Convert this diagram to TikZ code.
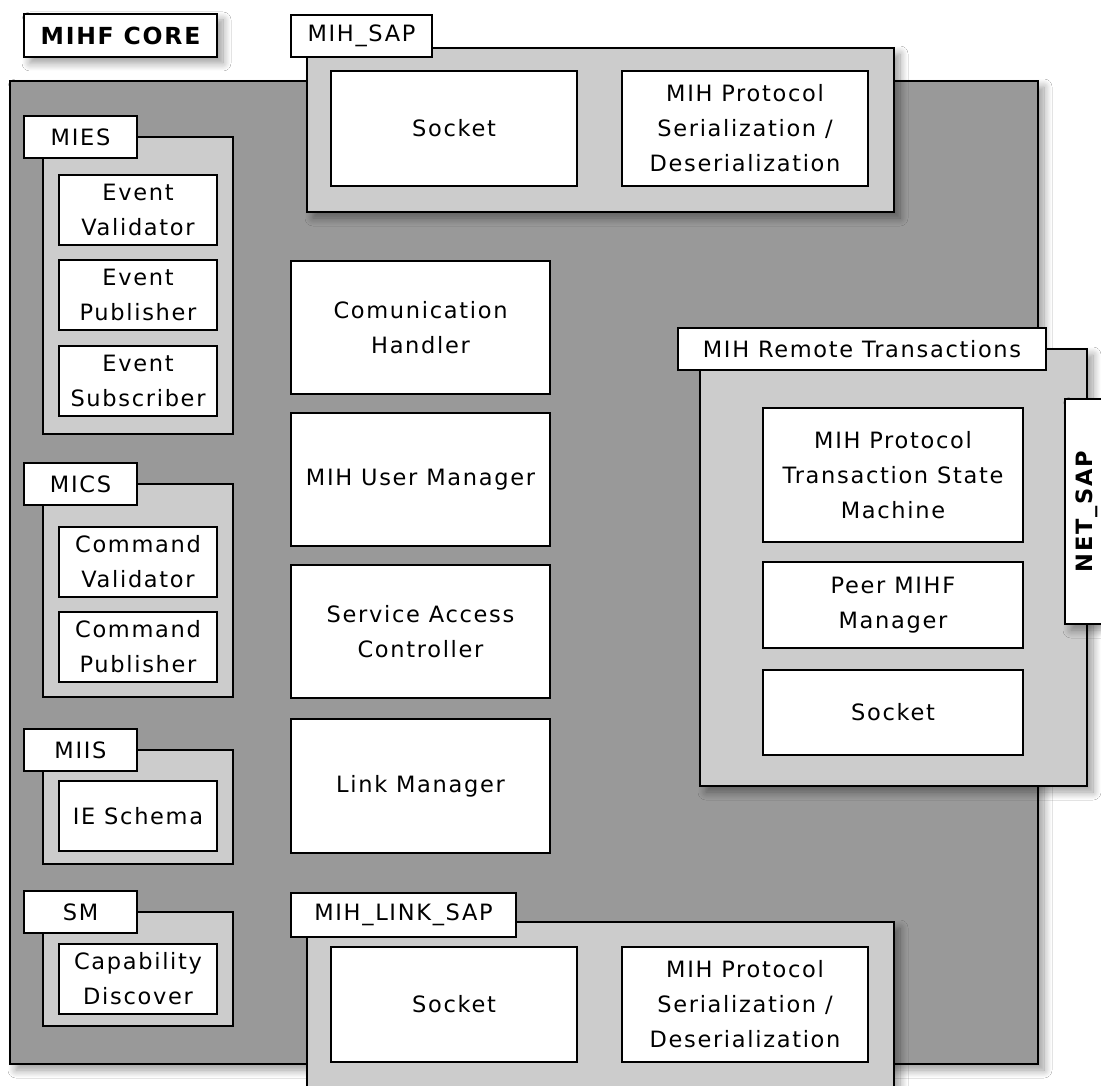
\documentclass[tikz,border=0pt]{standalone}
\usepackage{fontspec}
\setmainfont[LetterSpace=7.5]{DejaVu Sans}
\usetikzlibrary{shadows.blur}
\definecolor{coregray}{HTML}{999999}
\definecolor{groupgray}{HTML}{CCCCCC}
\tikzset{
  shad/.style={blur shadow={shadow xshift=6pt, shadow yshift=-6pt, shadow blur radius=8pt, shadow blur steps=12, shadow opacity=40}},
  base/.style={draw=black, line width=1.7pt, rectangle, inner sep=0pt, outer sep=0pt},
  corebox/.style={base, fill=coregray},
  grp/.style={base, fill=groupgray},
  blk/.style={base, fill=white, align=center, font=\fontsize{22.5}{35}\selectfont},
  tag/.style={base, fill=white, font=\fontsize{22.5}{27}\selectfont},
  sz/.style n args={2}{minimum width=#1pt, minimum height=#2pt},
}
\begin{document}
\begin{tikzpicture}[x=1pt,y=-1pt]
\useasboundingbox (0,0) rectangle (1101,1086);
\clip (0,0) rectangle (1101,1086);
\fill[white] (0,0) rectangle (1101,1086);

% core
\node[corebox, shad, sz={1028}{983}] (core) at (524,572.5) {};
\node[tag, shad, sz={193}{43}, font=\fontsize{23.5}{27}\selectfont\bfseries] (coretag) at (120.5,35.5) {MIHF CORE};

% MIH_SAP
\node[grp, shad, sz={587}{164}] (sapgrp) at (600.5,130) {};
\node[blk, sz={246}{115}] (sock1) at (454,128.5) {Socket};
\node[blk, sz={246}{115}] (ser1) at (745,128.5) {MIH Protocol\\Serialization /\\Deserialization};
\node[tag, sz={141}{42}] (saptag) at (361.5,36) {MIH\_SAP};

% MIES
\node[grp, sz={190}{297}] (miesgrp) at (138,285.5) {};
\node[blk, sz={158}{70}] (evval) at (138,210) {Event\\Validator};
\node[blk, sz={158}{70}] (evpub) at (138,295) {Event\\Publisher};
\node[blk, sz={158}{70}] (evsub) at (138,381) {Event\\Subscriber};
\node[tag, sz={113}{42}] (miestag) at (80.5,137) {MIES};

% MICS
\node[grp, sz={190}{213}] (micsgrp) at (138,590.5) {};
\node[blk, sz={158}{70}] (cmdval) at (138,562) {Command\\Validator};
\node[blk, sz={158}{70}] (cmdpub) at (138,647) {Command\\Publisher};
\node[tag, sz={113}{42}] (micstag) at (80.5,484) {MICS};

% MIIS
\node[grp, sz={190}{114}] (miisgrp) at (138,807) {};
\node[blk, sz={158}{70}] (ieschema) at (138,816) {IE Schema};
\node[tag, sz={113}{42}] (miistag) at (80.5,750) {MIIS};

% SM
\node[grp, sz={190}{114}] (smgrp) at (138,969) {};
\node[blk, sz={158}{70}] (capdisc) at (138,979) {Capability\\Discover};
\node[tag, sz={113}{42}] (smtag) at (80.5,912) {SM};

% centre column
\node[blk, sz={259}{133}] (comm) at (420.5,327.5) {Comunication\\Handler};
\node[blk, sz={259}{133}] (user) at (420.5,479.5) {MIH User Manager};
\node[blk, sz={259}{133}] (sac) at (420.5,631.5) {Service Access\\Controller};
\node[blk, sz={259}{134}] (link) at (420.5,786) {Link Manager};

% MIH Remote Transactions
\node[grp, shad, sz={387}{437}] (remgrp) at (893.5,567.5) {};
\node[blk, sz={260}{134}] (tsm) at (893,475) {MIH Protocol\\Transaction State\\Machine};
\node[blk, sz={260}{86}] (peer) at (893,605) {Peer MIHF\\Manager};
\node[blk, sz={260}{85}] (sock3) at (893,712.5) {Socket};
\node[tag, sz={368}{42}] (remtag) at (862,349) {MIH Remote Transactions};
\node[base, fill=white, shad, sz={50}{225}] (netsap) at (1090,511.5) {};
\node[rotate=90, font=\fontsize{22.5}{27}\selectfont\bfseries] (netsaptxt) at (1087,511.5) {NET\_SAP};

% MIH_LINK_SAP
\node[grp, shad, sz={587}{180}] (linkgrp) at (600.5,1012) {};
\node[blk, sz={246}{115}] (sock2) at (454,1004.5) {Socket};
\node[blk, sz={246}{115}] (ser2) at (745,1004.5) {MIH Protocol\\Serialization /\\Deserialization};
\node[tag, sz={225}{44}] (linktag) at (403.5,915) {MIH\_LINK\_SAP};
\end{tikzpicture}
\end{document}
